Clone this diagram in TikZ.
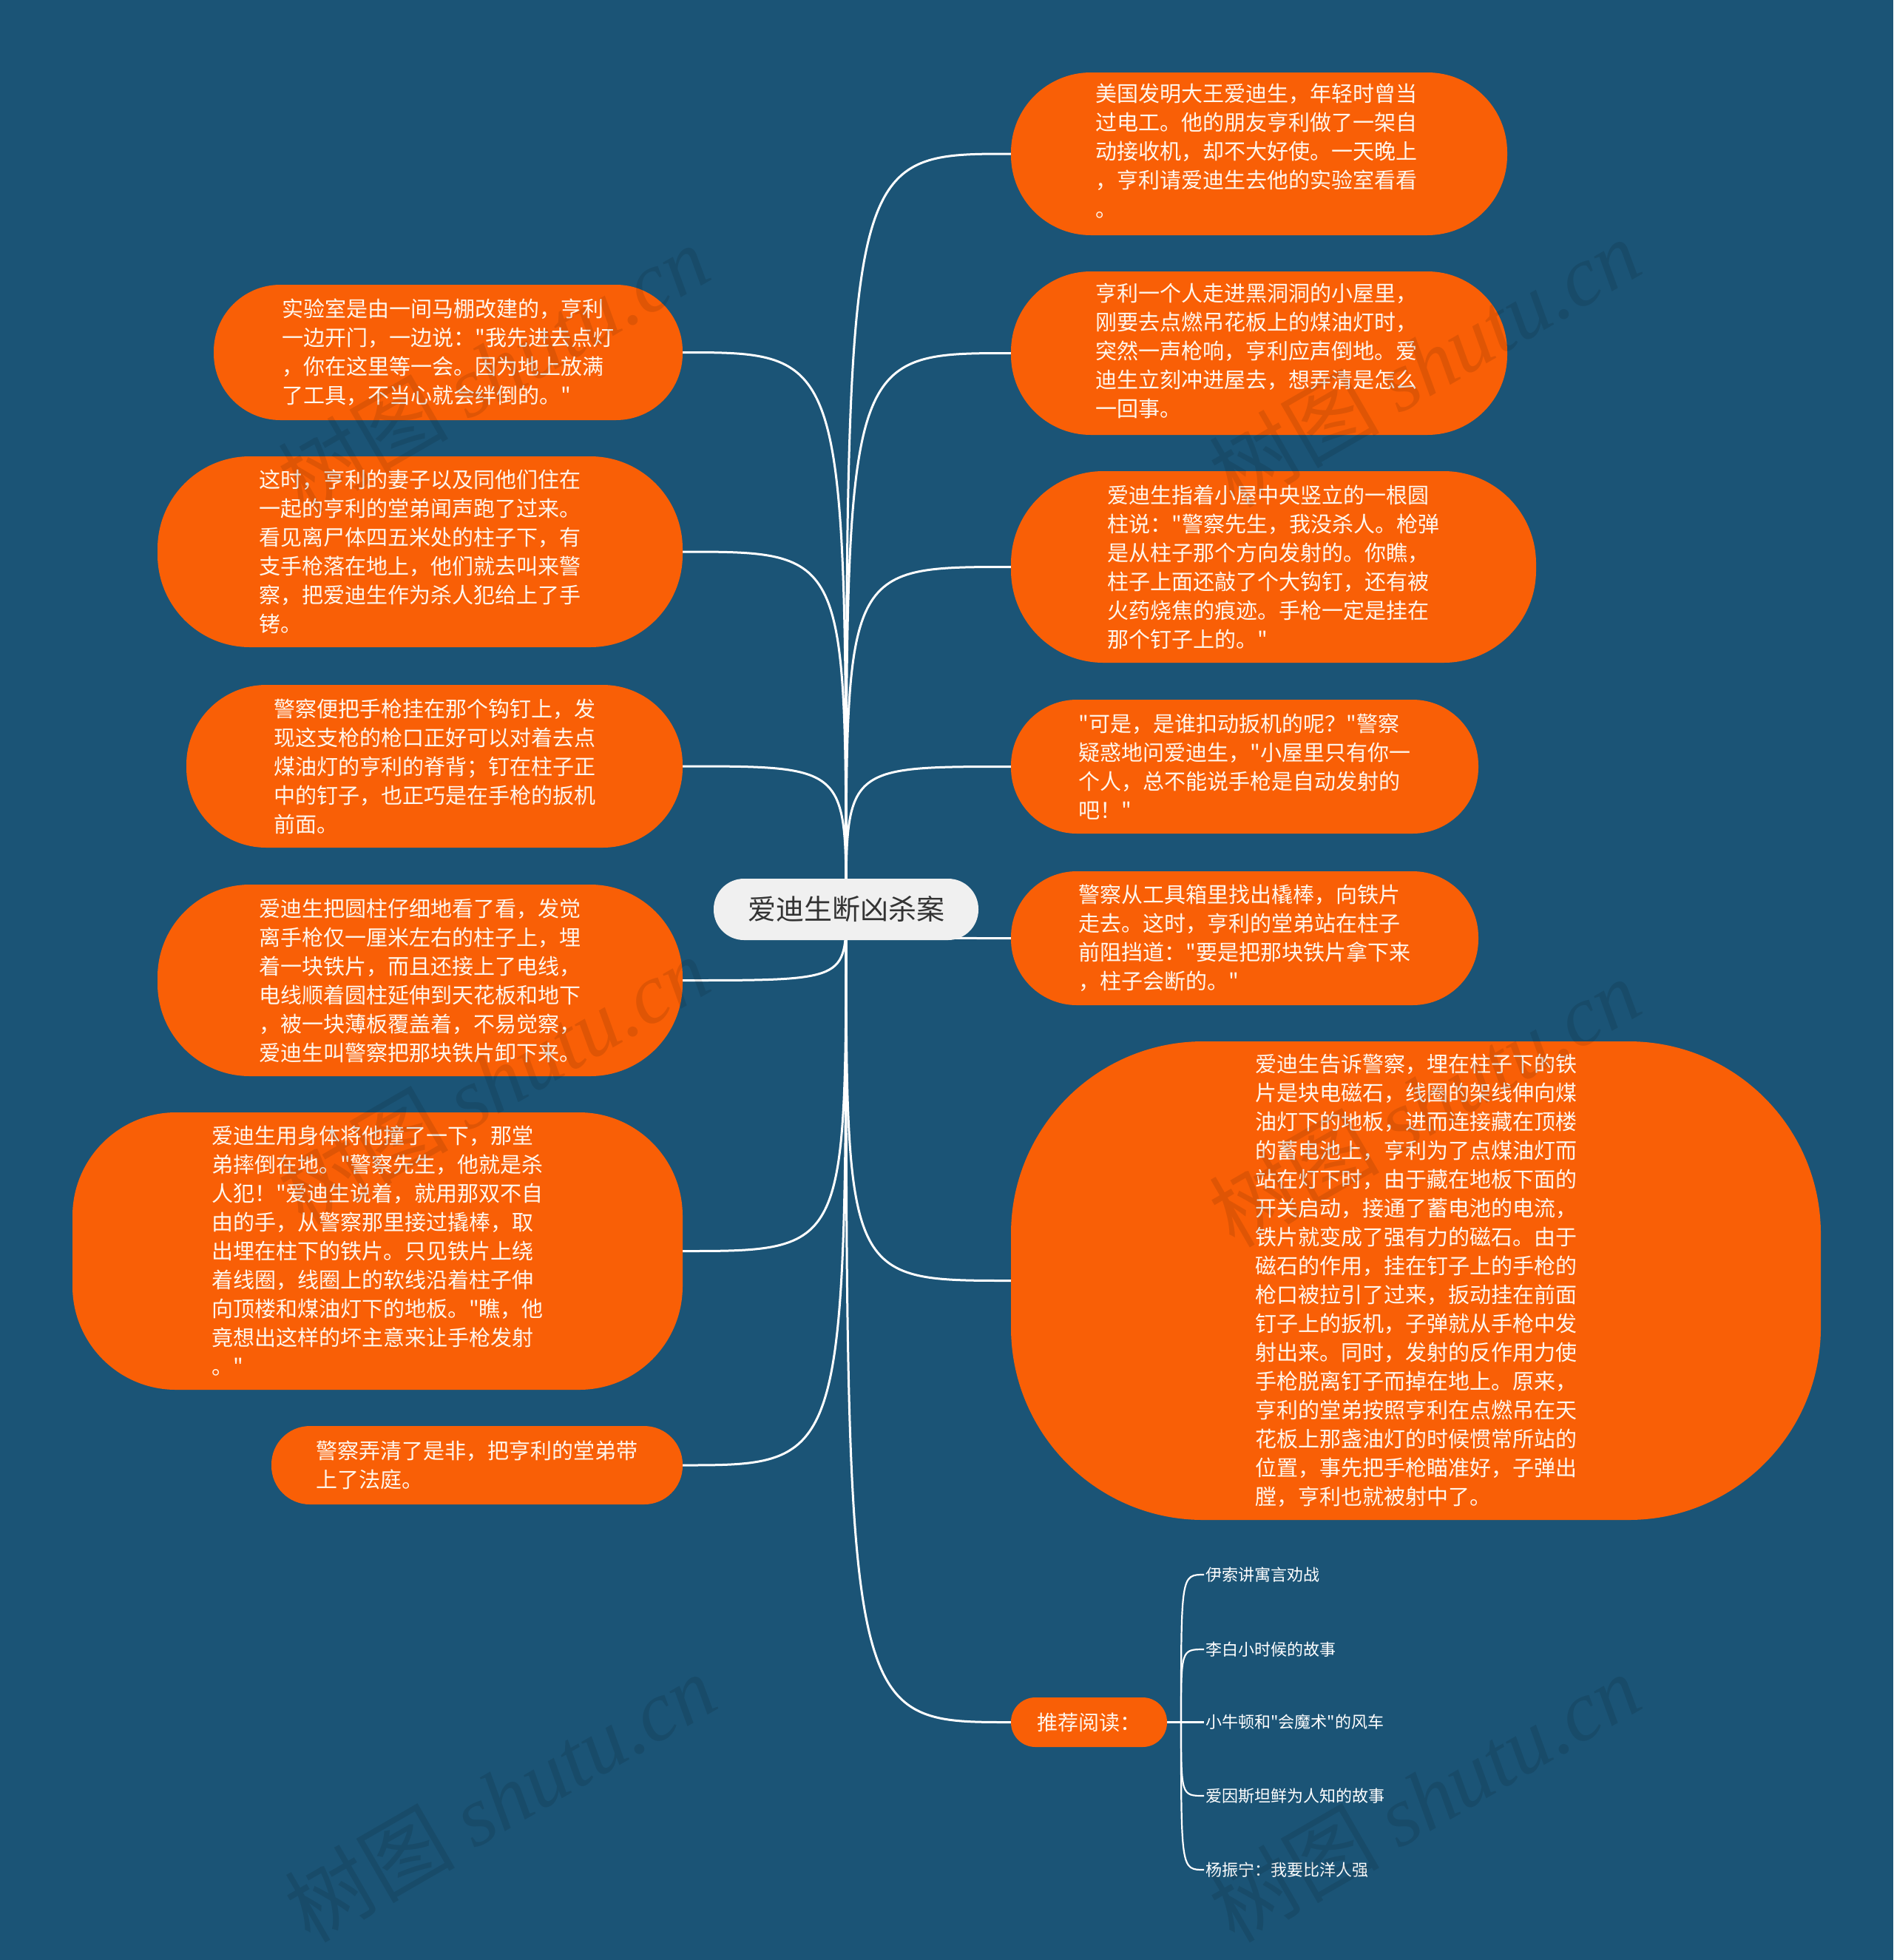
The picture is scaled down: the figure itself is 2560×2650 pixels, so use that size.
\documentclass[tikz,border=0pt]{standalone}
\usepackage{fontspec}
\setmainfont{Noto Sans CJK SC}[Ligatures=TeXOff]
\newfontfamily\wmlatin{Liberation Serif}
\definecolor{bgblue}{HTML}{1B5476}
\definecolor{orangebox}{HTML}{F95F06}
\definecolor{centerfill}{HTML}{F0F0F0}
\definecolor{centertext}{HTML}{333333}
\definecolor{boxtext}{HTML}{FFF6EC}
\pgfdeclarelayer{back}
\pgfdeclarelayer{edges}
\pgfsetlayers{back,edges,main}
\begin{document}
\begin{tikzpicture}[x=1pt,y=-1pt,
  box/.style={fill=orangebox, text=boxtext, align=left, inner sep=0pt,
    font=\fontsize{29pt}{39pt}\selectfont},
  leaf/.style={text=white, inner sep=2pt, anchor=west,
    font=\fontsize{22pt}{22pt}\selectfont},
  conn/.style={draw=white, line width=3pt},
  conntwo/.style={draw=white, line width=2.2pt},
  wmark/.style={rotate=30, text=black, opacity=0.1,
    font=\fontsize{115pt}{115pt}\selectfont}
]
\useasboundingbox (0,0) rectangle (2560,2650);
\begin{pgfonlayer}{back}
\fill[bgblue] (0,0) rectangle (2560,2650);
\end{pgfonlayer}

% central node
\node[fill=centerfill, text=centertext, rounded corners=41pt,
  minimum width=358pt, minimum height=83pt, inner sep=0pt,
  font=\fontsize{38pt}{38pt}\selectfont] (c) at (1144,1229.5) {爱迪生断凶杀案};

% right side
\node[box, minimum width=671pt, minimum height=220pt, rounded corners=108pt] (r1) at (1702.5,208) {\hspace*{-8pt}\begin{tabular}{@{}l@{}}美国发明大王爱迪生，年轻时曾当\\过电工。他的朋友亨利做了一架自\\动接收机，却不大好使。一天晚上\\，亨利请爱迪生去他的实验室看看\\。\end{tabular}};
\node[box, minimum width=671pt, minimum height=221pt, rounded corners=108pt] (r2) at (1702.5,477.5) {\hspace*{-8pt}\begin{tabular}{@{}l@{}}亨利一个人走进黑洞洞的小屋里，\\刚要去点燃吊花板上的煤油灯时，\\突然一声枪响，亨利应声倒地。爱\\迪生立刻冲进屋去，想弄清是怎么\\一回事。\end{tabular}};
\node[box, minimum width=710pt, minimum height=259pt, rounded corners=125pt] (r3) at (1722,766.5) {爱迪生指着小屋中央竖立的一根圆\\柱说："警察先生，我没杀人。枪弹\\是从柱子那个方向发射的。你瞧，\\柱子上面还敲了个大钩钉，还有被\\火药烧焦的痕迹。手枪一定是挂在\\那个钉子上的。"};
\node[box, minimum width=632pt, minimum height=181pt, rounded corners=89pt] (r4) at (1683,1036.5) {"可是，是谁扣动扳机的呢？"警察\\疑惑地问爱迪生，"小屋里只有你一\\个人，总不能说手枪是自动发射的\\吧！"};
\node[box, minimum width=632pt, minimum height=181pt, rounded corners=89pt] (r5) at (1683,1268.5) {警察从工具箱里找出橇棒，向铁片\\走去。这时，亨利的堂弟站在柱子\\前阻挡道："要是把那块铁片拿下来\\，柱子会断的。"};
\node[box, minimum width=1095pt, minimum height=647pt, rounded corners=260pt] (r6) at (1914.5,1731.5) {爱迪生告诉警察，埋在柱子下的铁\\片是块电磁石，线圈的架线伸向煤\\油灯下的地板，进而连接藏在顶楼\\的蓄电池上，亨利为了点煤油灯而\\站在灯下时，由于藏在地板下面的\\开关启动，接通了蓄电池的电流，\\铁片就变成了强有力的磁石。由于\\磁石的作用，挂在钉子上的手枪的\\枪口被拉引了过来，扳动挂在前面\\钉子上的扳机，子弹就从手枪中发\\射出来。同时，发射的反作用力使\\手枪脱离钉子而掉在地上。原来，\\亨利的堂弟按照亨利在点燃吊在天\\花板上那盏油灯的时候惯常所站的\\位置，事先把手枪瞄准好，子弹出\\膛，亨利也就被射中了。};
\node[box, minimum width=211pt, minimum height=67pt, rounded corners=33pt,
  font=\fontsize{28pt}{28pt}\selectfont] (r7) at (1472.5,2328.5) {推荐阅读：};

% left side
\node[box, minimum width=634pt, minimum height=183pt, rounded corners=90pt] (l1) at (606,476.5) {实验室是由一间马棚改建的，亨利\\一边开门，一边说："我先进去点灯\\，你在这里等一会。因为地上放满\\了工具，不当心就会绊倒的。"};
\node[box, minimum width=710pt, minimum height=258pt, rounded corners=125pt] (l2) at (568,746) {这时，亨利的妻子以及同他们住在\\一起的亨利的堂弟闻声跑了过来。\\看见离尸体四五米处的柱子下，有\\支手枪落在地上，他们就去叫来警\\察，把爱迪生作为杀人犯给上了手\\铐。};
\node[box, minimum width=671pt, minimum height=220pt, rounded corners=108pt] (l3) at (587.5,1036) {警察便把手枪挂在那个钩钉上，发\\现这支枪的枪口正好可以对着去点\\煤油灯的亨利的脊背；钉在柱子正\\中的钉子，也正巧是在手枪的扳机\\前面。};
\node[box, minimum width=710pt, minimum height=259pt, rounded corners=125pt] (l4) at (568,1325.5) {爱迪生把圆柱仔细地看了看，发觉\\离手枪仅一厘米左右的柱子上，埋\\着一块铁片，而且还接上了电线，\\电线顺着圆柱延伸到天花板和地下\\，被一块薄板覆盖着，不易觉察，\\爱迪生叫警察把那块铁片卸下来。};
\node[box, minimum width=825pt, minimum height=375pt, rounded corners=140pt] (l5) at (510.5,1691.5) {爱迪生用身体将他撞了一下，那堂\\弟摔倒在地。"警察先生，他就是杀\\人犯！"爱迪生说着，就用那双不自\\由的手，从警察那里接过撬棒，取\\出埋在柱下的铁片。只见铁片上绕\\着线圈，线圈上的软线沿着柱子伸\\向顶楼和煤油灯下的地板。"瞧，他\\竟想出这样的坏主意来让手枪发射\\。"};
\node[box, minimum width=556pt, minimum height=106pt, rounded corners=52pt] (l6) at (645,1981) {警察弄清了是非，把亨利的堂弟带\\上了法庭。};

% recommended reading leaves
\coordinate (j) at (1597,2328.5);
\node[leaf] (k1) at (1628,2129) {伊索讲寓言劝战};
\node[leaf] (k2) at (1628,2230) {李白小时候的故事};
\node[leaf] (k3) at (1628,2328.5) {小牛顿和"会魔术"的风车};
\node[leaf] (k4) at (1628,2428) {爱因斯坦鲜为人知的故事};
\node[leaf] (k5) at (1628,2528) {杨振宁：我要比洋人强};

\begin{pgfonlayer}{edges}
\foreach \n in {r1,r2,r3,r4,r5,r6,r7}
  \draw[conn] (c.center) .. controls (c.center |- \n.west) .. (\n.west);
\foreach \n in {l1,l2,l3,l4,l5,l6}
  \draw[conn] (c.center) .. controls (c.center |- \n.east) .. (\n.east);
\draw[conntwo] (r7.east) -- (j);
\foreach \n in {k1,k2,k4,k5}
  \draw[conntwo] (j) .. controls (j |- \n.west) .. (\n.west);
\draw[conntwo] (j) -- (k3.west);
\end{pgfonlayer}

% watermarks
\node[wmark] (w1) at (667,498) {树图 {\wmlatin\itshape shutu.cn}};
\node[wmark] (w2) at (1926,490) {树图 {\wmlatin\itshape shutu.cn}};
\node[wmark] (w3) at (667,1460) {树图 {\wmlatin\itshape shutu.cn}};
\node[wmark] (w4) at (1926,1490) {树图 {\wmlatin\itshape shutu.cn}};
\node[wmark] (w5) at (676,2430) {树图 {\wmlatin\itshape shutu.cn}};
\node[wmark] (w6) at (1926,2430) {树图 {\wmlatin\itshape shutu.cn}};
\end{tikzpicture}
\end{document}
